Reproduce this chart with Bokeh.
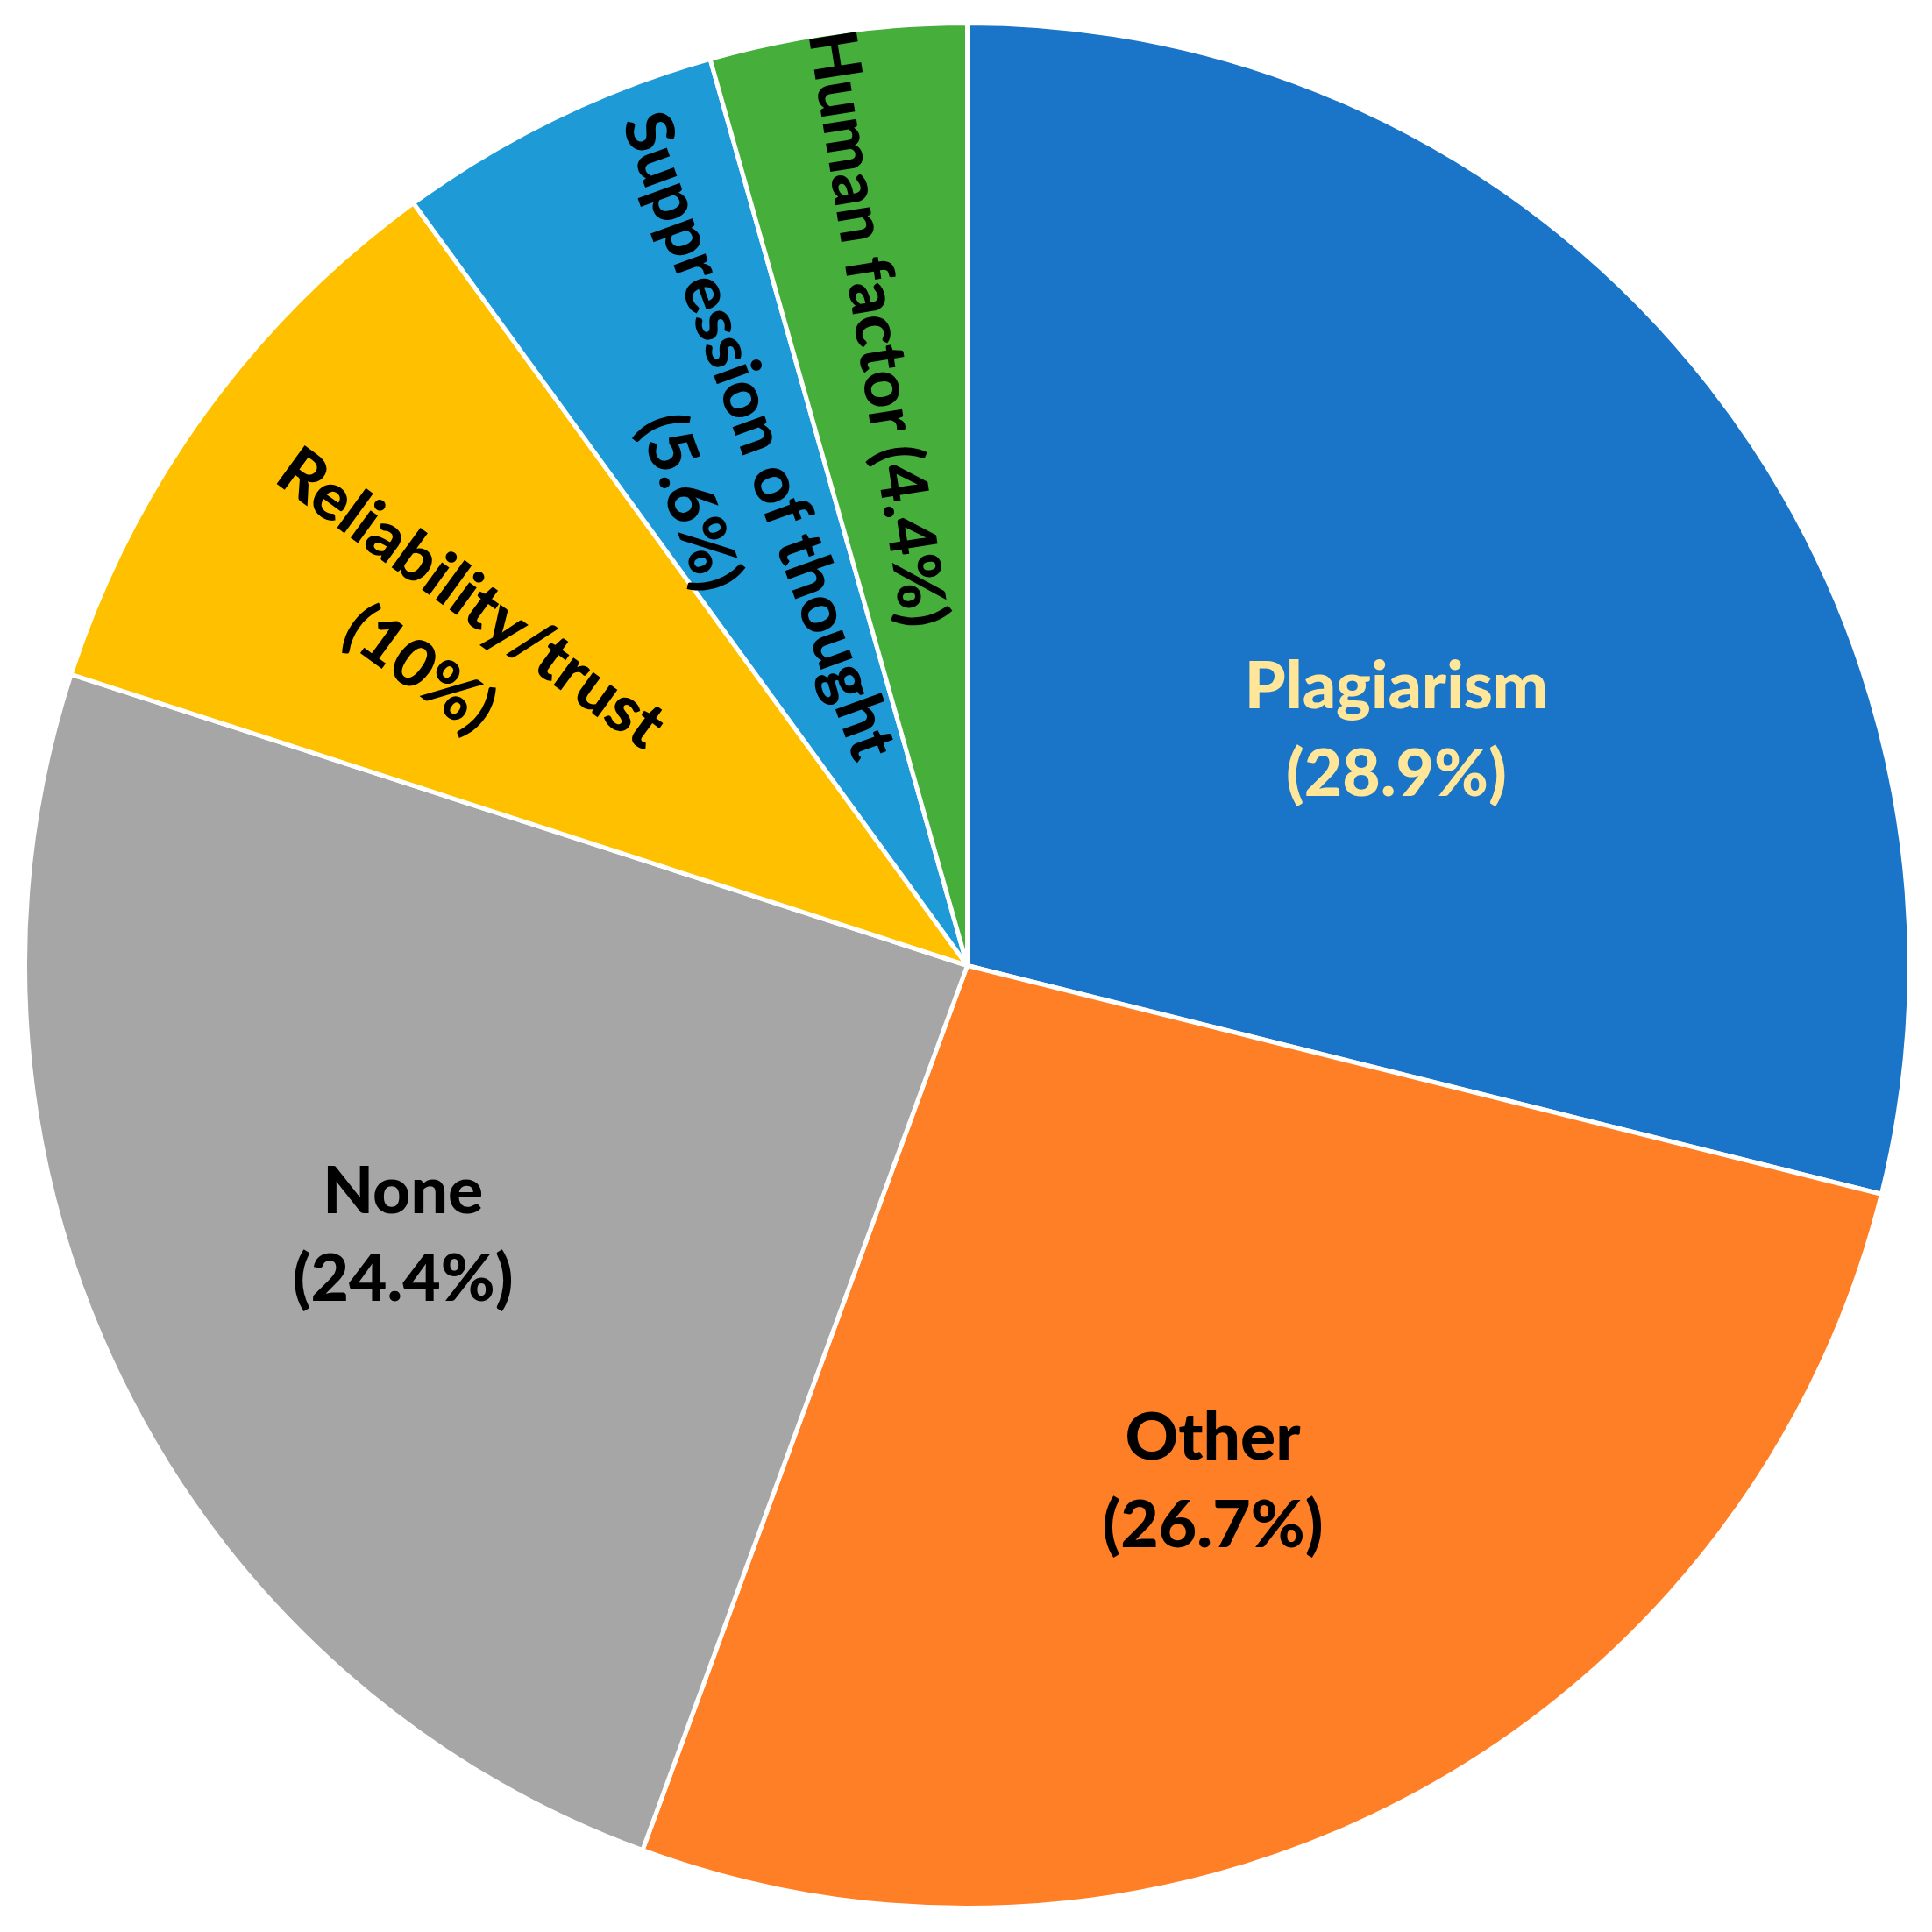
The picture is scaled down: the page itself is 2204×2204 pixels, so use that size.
import math
from bokeh.plotting import figure
from bokeh.models import Range1d, ColumnDataSource
from bokeh.core.properties import value
from bokeh.embed import file_html
from bokeh.resources import INLINE

# ---- data ----
categories = ["Plagiarism", "Other", "None", "Reliability/trust",
              "Suppression of thought", "Human factor"]
shares = [28.9, 26.7, 24.4, 10.0, 5.6, 4.4]

# ---- styles / layout ----
colors = ["#1A74C8", "#FF7F27", "#A6A6A6", "#FFC000", "#1E9BD7", "#46AF3C"]
label_colors = ["#FFE699", "#000000", "#000000", "#000000", "#000000", "#000000"]
label_one_line = [False, False, False, False, False, True]
label_r = [0.52, 0.605, 0.663, 0.656, 0.586, 0.682]        # fraction of radius
label_theta = [28.9, -64.5, 205.4, 147.4, 115.9, 97.9]     # degrees, ccw from east
label_rot = [0, 0, 0, -36, -70, -81]                       # text rotation, degrees
label_stagger = [0, 0, 0, 0, 44, 0]                        # along-text shift between lines

W = H = 2188
CX, CY = 1103, 1101          # pie centre inside the canvas (px from left / top)
R = 1075
FONT_PX = 75
LINE_GAP = 100
BASE_OFF = 0.358 * FONT_PX - 29   # local shift from visual line centre to anchor

p = figure(width=W, height=H,
           x_range=Range1d(-CX, W - CX), y_range=Range1d(CY - H, CY),
           output_backend="svg", toolbar_location=None, min_border=0)
p.axis.visible = False
p.xgrid.visible = False
p.ygrid.visible = False
p.outline_line_color = None
p.background_fill_color = "white"
p.border_fill_color = "white"

total = sum(shares)
starts, ends = [], []
cum = 0.0
for s in shares:
    a0 = math.pi / 2 - 2 * math.pi * (cum + s) / total
    a1 = math.pi / 2 - 2 * math.pi * cum / total
    starts.append(a0)
    ends.append(a1)
    cum += s

wsrc = ColumnDataSource(dict(x=[0] * len(shares), y=[0] * len(shares),
                             start=starts, end=ends, color=colors))
p.wedge(x="x", y="y", radius=R, start_angle="start", end_angle="end",
        direction="anticlock", fill_color="color", line_color="white",
        line_width=5, source=wsrc)

tx, ty, tt, ta, tc = [], [], [], [], []
for i, name in enumerate(categories):
    pct = f"({shares[i]:g}%)"
    lines = [f"{name} {pct}"] if label_one_line[i] else [name, pct]
    th = math.radians(label_theta[i])
    bx = label_r[i] * R * math.cos(th)
    by = label_r[i] * R * math.sin(th)
    a = math.radians(label_rot[i])
    dx, dy = math.cos(a), math.sin(a)
    ux, uy = -math.sin(a), math.cos(a)
    n = len(lines)
    for j, ln in enumerate(lines):
        off = ((n - 1) / 2 - j) * LINE_GAP - BASE_OFF
        along = (j - (n - 1) / 2) * label_stagger[i]
        tx.append(bx + ux * off + dx * along)
        ty.append(by + uy * off + dy * along)
        tt.append(ln)
        ta.append(a)
        tc.append(label_colors[i])

tsrc = ColumnDataSource(dict(x=tx, y=ty, text=tt, angle=ta, color=tc))
p.text(x="x", y="y", text="text", angle="angle", text_color="color",
       text_font=value("Lato Heavy, Lato Black, Lato"), text_font_style="bold",
       text_font_size=f"{FONT_PX}px", text_align="center",
       text_baseline="alphabetic", source=tsrc)

open("out.html", "w").write(file_html(p, INLINE))
